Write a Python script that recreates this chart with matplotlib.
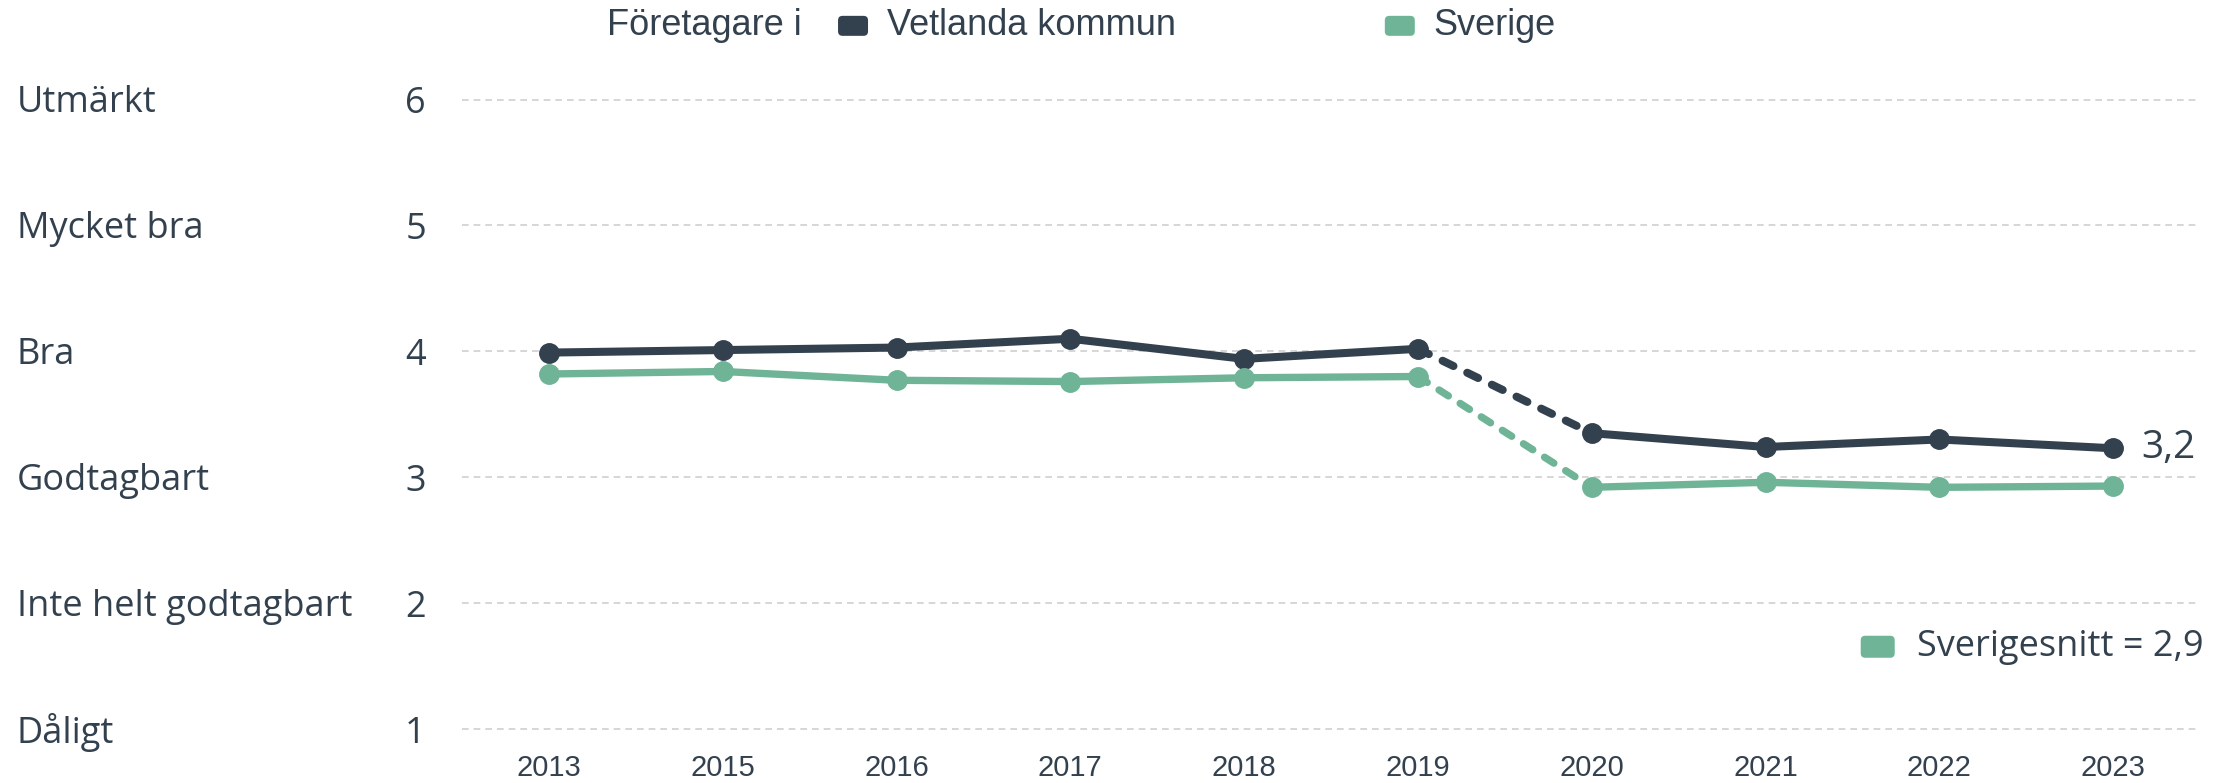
import matplotlib
matplotlib.use('Agg')
import matplotlib.pyplot as plt
from matplotlib.patches import FancyBboxPatch
from matplotlib.transforms import blended_transform_factory


years = ['2013', '2015', '2016', '2017', '2018', '2019', '2020', '2021', '2022', '2023']
vetlanda = [3.99, 4.01, 4.03, 4.10, 3.94, 4.02, 3.35, 3.24, 3.30, 3.23]
sverige = [3.82, 3.84, 3.77, 3.76, 3.79, 3.80, 2.92, 2.96, 2.92, 2.93]

levels = [1, 2, 3, 4, 5, 6]
level_names = ['Dåligt', 'Inte helt godtagbart', 'Godtagbart', 'Bra', 'Mycket bra', 'Utmärkt']

DARK = '#33414f'
GREEN = '#6fb497'
TEXT = '#33414f'
FONT = 'Open Sans'
FONT2 = 'Liberation Sans'

# index where the method changed (dashed link between these points)
BREAK = 5


def draw_series(ax, values, color, lw):
    x = list(range(len(values)))
    ax.plot(x[:BREAK + 1], values[:BREAK + 1], color=color, lw=lw,
            marker='o', ms=14, solid_capstyle='round', zorder=3)
    ax.plot(x[BREAK:BREAK + 2], values[BREAK:BREAK + 2], color=color, lw=lw,
            linestyle=(0, (1.5, 1.9)), dash_capstyle='round', zorder=2)
    ax.plot(x[BREAK + 1:], values[BREAK + 1:], color=color, lw=lw,
            marker='o', ms=14, solid_capstyle='round', zorder=3)


def rect(fig, xc, yc, color, w_px, h_px):
    # sizes in pixels, centre in figure fraction
    W, H = fig.get_size_inches()
    w = w_px / fig.dpi
    h = h_px / fig.dpi
    box = FancyBboxPatch((xc * W - w / 2, yc * H - h / 2), w, h,
                         boxstyle='round,pad=0,rounding_size=0.045',
                         transform=fig.dpi_scale_trans, color=color, lw=0)
    fig.add_artist(box)


def show():
    fig = plt.figure(figsize=(22.29, 7.83), dpi=100)
    ax = fig.add_axes([0.2073, 0.0528, 0.7797, 0.8362])

    draw_series(ax, vetlanda, DARK, 5.8)
    draw_series(ax, sverige, GREEN, 5.3)

    ax.set_xlim(-0.5, len(years) - 0.5)
    ax.set_ylim(0.9, 6.1)
    ax.set_xticks(range(len(years)))
    ax.set_xticklabels(years, fontsize=21, color=TEXT, family=FONT2)
    ax.set_yticks(levels)
    ax.set_yticklabels([str(v) for v in levels], fontsize=26, color=TEXT, family=FONT)
    ax.tick_params(axis='both', length=0)
    ax.tick_params(axis='y', pad=26)
    ax.tick_params(axis='x', pad=9)
    for s in ax.spines.values():
        s.set_visible(False)
    ax.grid(axis='y', color='#cfcfcf', linestyle=(0, (4, 3)), lw=1.2)
    ax.set_axisbelow(True)

    trans = blended_transform_factory(fig.transFigure, ax.transData)
    for v, name in zip(levels, level_names):
        ax.text(0.0076, v - 0.03, name, transform=trans, ha='left', va='center',
                fontsize=26, color=TEXT, family=FONT)

    ax.annotate('3,2', (len(years) - 1, vetlanda[-1]), xytext=(20, 0),
                textcoords='offset points', ha='left', va='center',
                fontsize=28, color=TEXT, family=FONT)

    # legend on top
    ly = 0.967
    fig.text(0.2723, ly, 'Företagare i', ha='left', va='center', fontsize=26, color=TEXT, family=FONT2)
    rect(fig, 0.3827, ly, DARK, 30, 20)
    fig.text(0.398, ly, 'Vetlanda kommun', ha='left', va='center', fontsize=26, color=TEXT, family=FONT2)
    rect(fig, 0.628, ly, GREEN, 30, 20)
    fig.text(0.643, ly, 'Sverige', ha='left', va='center', fontsize=26, color=TEXT, family=FONT2)

    # sweden average note
    rect(fig, 0.8424, 0.174, GREEN, 34, 22)
    fig.text(0.86, 0.174, 'Sverigesnitt = 2,9', ha='left', va='center', fontsize=26, color=TEXT, family=FONT)

    fig.savefig('out.png', dpi=100)


if __name__ == '__main__':
    show()
